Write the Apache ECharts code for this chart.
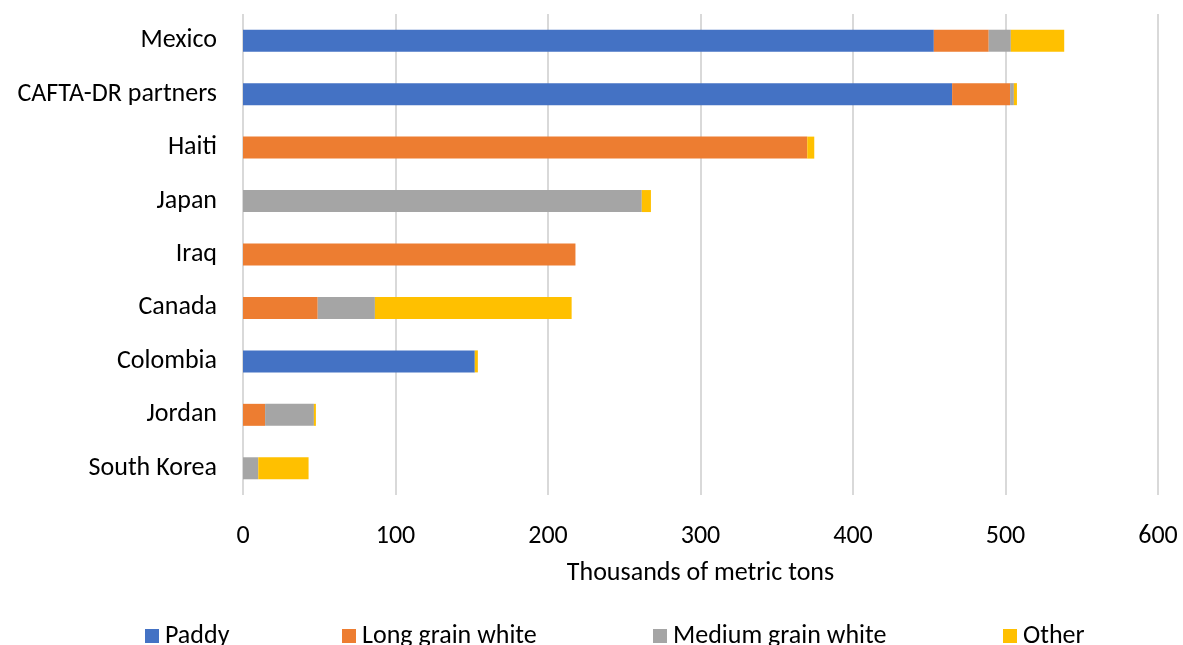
<!DOCTYPE html>
<html><head><meta charset="utf-8">
<script src="https://cdn.jsdelivr.net/npm/echarts@6/dist/echarts.min.js"></script>
<style>html,body{margin:0;padding:0;background:#fff}#c{width:1183px;height:645px}</style>
</head><body><div id="c"></div>
<script>
const categories = ['Mexico','CAFTA-DR partners','Haiti','Japan','Iraq','Canada','Colombia','Jordan','South Korea'];
const paddy = [453, 465, 0, 0, 0, 0, 152, 0, 0];
const longGrainWhite = [36, 38, 370, 0, 218, 49, 0, 14.5, 0];
const mediumGrainWhite = [14.5, 2.5, 0, 261.5, 0, 37.5, 0, 32, 10];
const other = [35, 2, 4.6, 6, 0, 129, 2, 1.3, 33];
const seriesNames = ['Paddy','Long grain white','Medium grain white','Other'];
const colors = ['#4472C4','#ED7D31','#A5A5A5','#FFC000'];
const xTicks = [0,100,200,300,400,500,600];

const FONT = "Carlito, 'Liberation Sans Narrow', 'Liberation Sans', sans-serif";
const FS = 26;
const chart = echarts.init(document.getElementById('c'));
const data = [paddy, longGrainWhite, mediumGrainWhite, other];
const legendLefts = [140, 337, 648, 998];
chart.setOption({
  animation: false,
  textStyle: {fontFamily: FONT},
  grid: {left: 243, right: 25, top: 14, bottom: 150, containLabel: false},
  legend: seriesNames.map((n, i) => ({
    data: [n], left: legendLefts[i], top: 618, icon: 'rect', itemWidth: 14, itemHeight: 14, itemGap: 0,
    textStyle: {fontSize: FS, color: '#000', fontFamily: FONT, padding: [0,0,0,1]}, selectedMode: false
  })),
  xAxis: {
    type: 'value', min: xTicks[0], max: xTicks[xTicks.length-1], interval: 100,
    name: 'Thousands of metric tons', nameLocation: 'middle', nameGap: 65,
    nameTextStyle: {fontSize: FS, color: '#000', fontFamily: FONT},
    axisLabel: {fontSize: FS, color: '#000', margin: 28, fontFamily: FONT},
    axisLine: {show: false}, axisTick: {show: false},
    splitLine: {lineStyle: {color: '#d9d9d9', width: 2}}
  },
  yAxis: {
    type: 'category', data: categories, inverse: true,
    axisLabel: {fontSize: FS, color: '#000', margin: 26, fontFamily: FONT},
    axisLine: {show: false}, axisTick: {show: false}
  },
  series: data.map((d, i) => ({
    name: seriesNames[i], type: 'bar', stack: 'total', data: d,
    barWidth: 22, itemStyle: {color: colors[i]}
  }))
});
</script></body></html>
